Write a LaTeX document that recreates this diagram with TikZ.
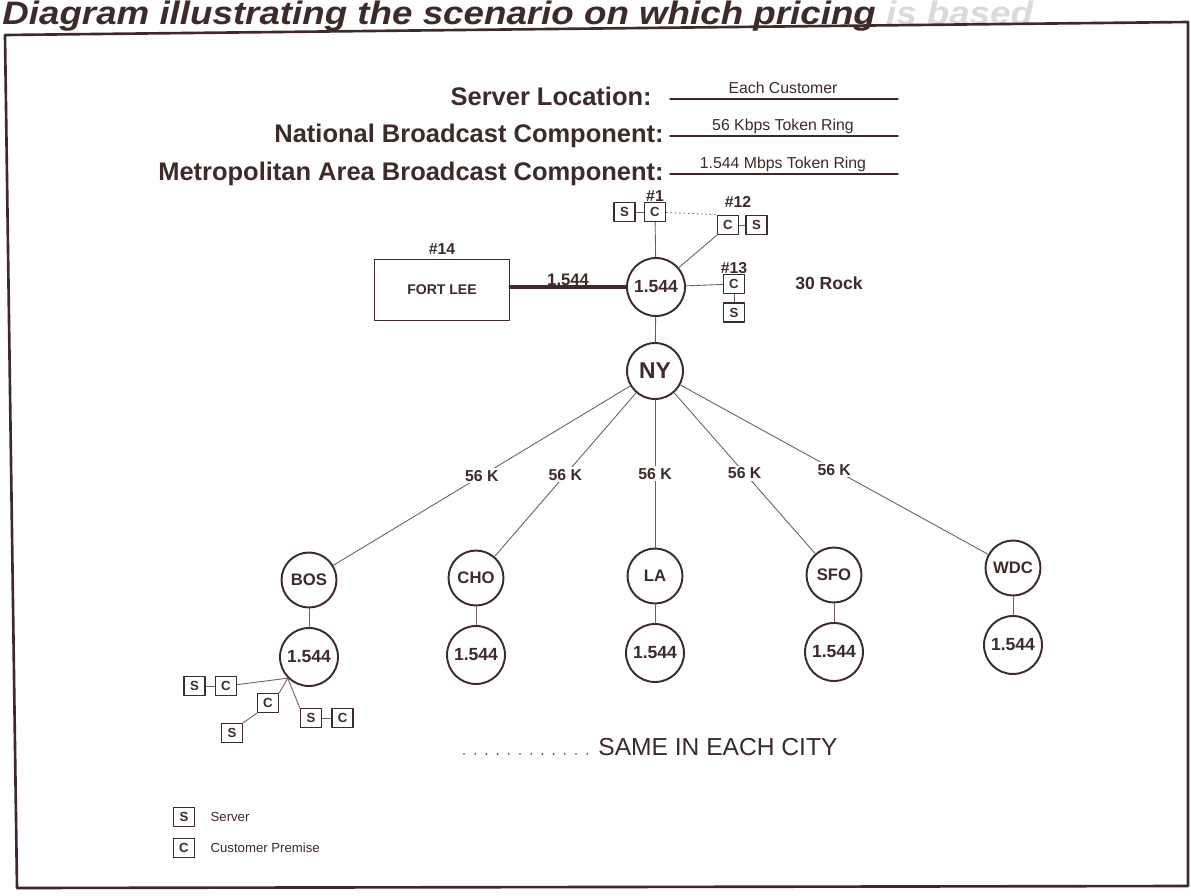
\documentclass[tikz,border=0pt]{standalone}
\usepackage{fontspec}
\setmainfont{Liberation Sans}
\usetikzlibrary{positioning}
\definecolor{ink}{RGB}{62,42,42}
\definecolor{wirecol}{RGB}{112,94,94}
\newcommand\setfs[1]{\fontsize{#1}{#1}\selectfont}
\tikzset{
  ring/.style={circle,draw=ink,line width=1.1pt,minimum size=1.16cm,inner sep=0pt,fill=white,text=ink,font=\setfs{10}\bfseries},
  city/.style={ring,minimum size=1.1cm,font=\setfs{9.5}\bfseries},
  unit/.style={draw=ink,line width=0.9pt,minimum width=0.42cm,minimum height=0.38cm,inner sep=0pt,fill=white,text=ink,font=\setfs{7.5}\bfseries},
  wire/.style={draw=wirecol,line width=0.5pt},
  tag/.style={text=ink,inner sep=1pt,font=\setfs{9}\bfseries},
  head/.style={anchor=base east,inner sep=0pt,text=ink,font=\setfs{14.5}\bfseries},
  small/.style={anchor=base,inner sep=0pt,text=ink,font=\setfs{9}}
}
\begin{document}
\begin{tikzpicture}[x=0.02cm,y=-0.02cm,line cap=round,line join=round]
\useasboundingbox (0,0) rectangle (1191,896);
\fill[white] (0,0) rectangle (1191,896);
\node[anchor=base west,inner sep=0pt,text=ink,xscale=1.13,transform shape,font=\setfs{18.5}\bfseries\itshape] (title) at (2,24) {Diagram illustrating the scenario on which pricing \textcolor{ink!18}{is based}};
\draw[ink,line width=1.5pt] (5,35) -- (1188,22) -- (1188,886) -- (17,888) -- cycle;
\node[head] (srvloc) at (652,105) {Server Location:};
\node[head] (natbc) at (664,142) {National Broadcast Component:};
\node[head] (metbc) at (664,180) {Metropolitan Area Broadcast Component:};
\foreach \y in {99,136,174}{\draw[ink,line width=0.8pt] (670,\y) -- (898,\y);}
\node[small] at (783,93) {Each Customer};
\node[small] at (783,130) {56 Kbps Token Ring};
\node[small] at (783,168) {1.544 Mbps Token Ring};
\node[ring] (hub) at (656,287) {1.544};
\node[ring,minimum size=1.12cm,font=\setfs{13}\bfseries] (ny) at (655,371) {NY};
\node[draw=ink,line width=0.8pt,minimum width=2.7cm,minimum height=1.22cm,text=ink,font=\setfs{8}\bfseries] (fortlee) at (442,290) {FORT LEE};
\node[tag,above=0.05cm of fortlee] {\#14};
\draw[ink,line width=1.8pt] (fortlee.east |- hub) -- node[tag,above=-1pt,font=\setfs{9.5}\bfseries]{1.544} (hub);
\node[unit] (c1) at (655,212) {C};
\node[unit,left=0.16cm of c1] (s1) {S};
\node[tag,above=-1pt of c1] {\#1};
\node[unit] (c12) at (728,225) {C};
\node[unit,right=0.12cm of c12] (s12) {S};
\node[tag] at (738,202) {\#12};
\node[unit] (c13) at (734,284) {C};
\node[unit,below=0.16cm of c13] (s13) {S};
\node[tag,above=-1pt of c13] {\#13};
\node[tag,font=\setfs{10}\bfseries] (rock) at (829,283) {30 Rock};
\draw[wire] (s1) -- (c1);
\draw[wire] (c1) -- (hub);
\draw[wire,dotted] (c1) -- (c12.north west);
\draw[wire] (hub) -- (c12.south west);
\draw[wire] (c12) -- (s12);
\draw[wire] (hub) -- (c13);
\draw[wire] (c13) -- (s13);
\draw[wire] (hub) -- (ny);
\foreach \name/\x/\y in {BOS/309/580,CHO/476/578,LA/655/576,SFO/834/575,WDC/1013/568}{
  \node[city] (\name) at (\x,\y) {\name};
  \node[ring] (r\name) at (\x,\y+77) {1.544};
  \draw[wire] (ny) -- node[tag,fill=white]{56 K} (\name);
  \draw[wire] (\name) -- (r\name);
}
\coordinate (bj) at (rBOS.225);
\node[unit] (cb1) at (226,686) {C};
\node[unit,left=0.18cm of cb1] (sb1) {S};
\node[unit] (cb2) at (268,703) {C};
\node[unit] (sb2) at (232,733) {S};
\node[unit] (sb3) at (311,718) {S};
\node[unit,right=0.18cm of sb3] (cb3) {C};
\draw[wire] (bj) -- (cb1);
\draw[wire] (sb1) -- (cb1);
\draw[wire] (bj) -- (cb2.north east);
\draw[wire] (cb2.south west) -- (sb2.north east);
\draw[wire] (bj) -- (sb3.north west);
\draw[wire] (sb3) -- (cb3);
\node[anchor=base west,inner sep=0pt,text=ink,font=\setfs{14}] (same) at (598,755) {SAME IN EACH CITY};
\foreach \i in {0,...,11}{\fill[ink] (464+\i*11.2,754) circle (0.9);}
\node[unit] (legs) at (184,817) {S};
\node[right=0.3cm of legs,inner sep=0pt,text=ink,font=\setfs{7.5}] {Server};
\node[unit] (legc) at (184,848) {C};
\node[right=0.3cm of legc,inner sep=0pt,text=ink,font=\setfs{7.5}] {Customer Premise};
\end{tikzpicture}
\end{document}
